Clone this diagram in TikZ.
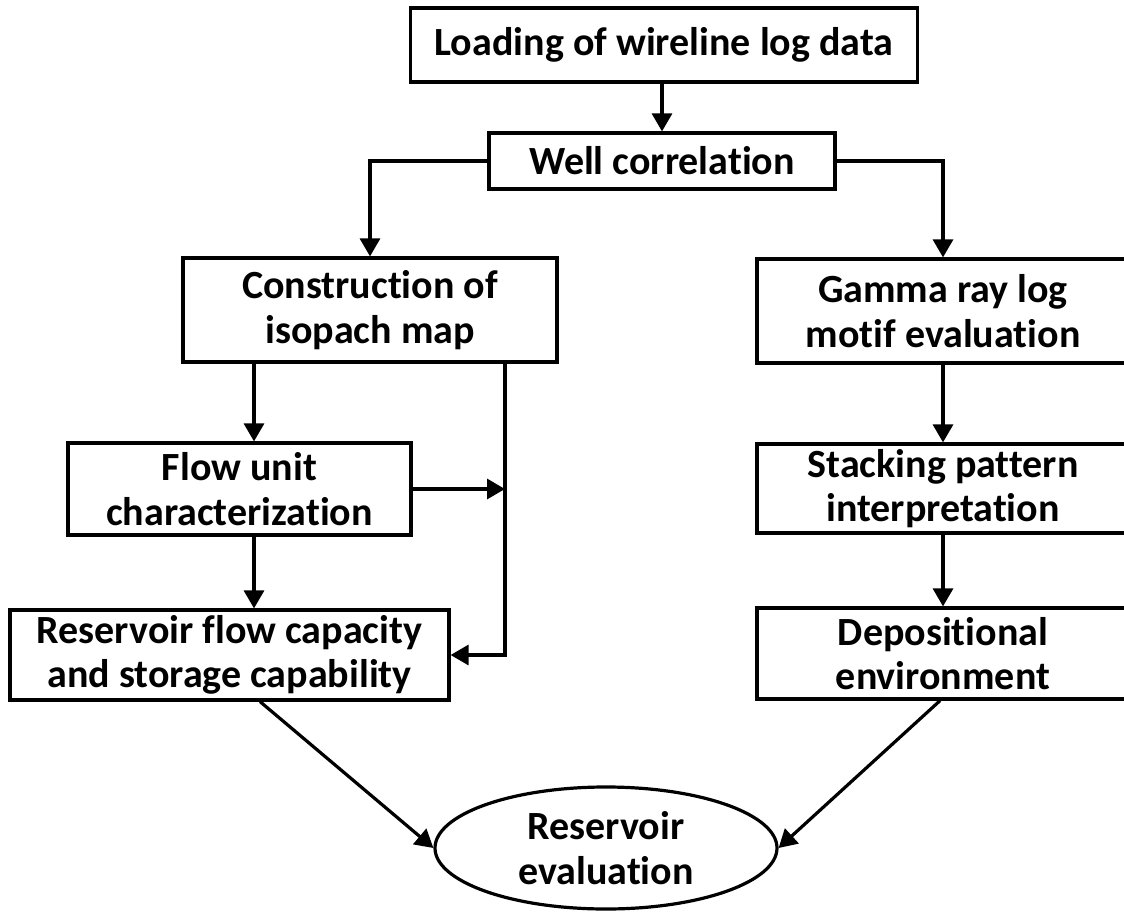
\documentclass[tikz,border=0pt]{standalone}
\usepackage{fontspec}
\newfontfamily\diagfont{Carlito}[Ligatures=NoCommon]
\usetikzlibrary{arrows.meta,shapes.geometric}
\tikzset{
  px/.style={x=0.75pt,y=-0.75pt},
  box/.style={draw, line width=2.4pt, fill=white, inner sep=0pt, align=center,
    font=\diagfont\bfseries\fontsize{30pt}{33.5pt}\selectfont},
  oval/.style={box, ellipse},
  arr/.style={line width=2.4pt, -{Triangle[length=13.5pt,width=15pt]}},
}
\begin{document}
\begin{tikzpicture}[px]
\useasboundingbox (0,0) rectangle (1124,913);
\fill[white] (0,0) rectangle (1124,913);

\node[box, minimum width=380.25pt, minimum height=55.5pt] (top) at (664,45) {Loading of wireline log data};
\node[box, minimum width=259.5pt, minimum height=42pt] (well) at (662,161) {Well correlation};
\node[box, minimum width=280.5pt, minimum height=78pt] (cons) at (370,310) {Construction of\\isopach map};
\node[box, minimum width=279pt, minimum height=78pt] (gamma) at (943,311) {Gamma ray log\\motif evaluation};
\node[box, minimum width=257.25pt, minimum height=69pt] (flow) at (239.5,489) {Flow unit\\characterization};
\node[box, minimum width=279pt, minimum height=66.75pt] (stack) at (943,488.5) {Stacking pattern\\interpretation};
\node[box, minimum width=329.25pt, minimum height=67.5pt] (resv) at (229.5,655) {Reservoir flow capacity\\and storage capability};
\node[box, minimum width=279pt, minimum height=68.25pt] (dep) at (943,653.5) {Depositional\\environment};
\node[oval, minimum width=256.5pt, minimum height=91.5pt] (ell) at (606,848) {Reservoir\\evaluation};

\coordinate (c1) at (254,0);
\coordinate (byp) at (505,0);

\draw[arr] (top.south -| well.north) -- (well.north);
\draw[arr] (well.west) -| (cons.north);
\draw[arr] (well.east) -| (gamma.north);
\draw[arr] (cons.south -| c1) -- (flow.north -| c1);
\draw[arr] (flow.south -| c1) -- (resv.north -| c1);
\draw[arr] (cons.south -| byp) |- (resv.east);
\draw[arr] (flow.east) -- (flow.east -| byp);
\draw[arr] (gamma.south) -- (stack.north);
\draw[arr] (stack.south) -- (dep.north);
\draw[arr] ([xshift=22.9pt]resv.south) -- (ell.west);
\draw[arr] ([xshift=-2.2pt]dep.south) -- (ell.east);
\end{tikzpicture}
\end{document}
